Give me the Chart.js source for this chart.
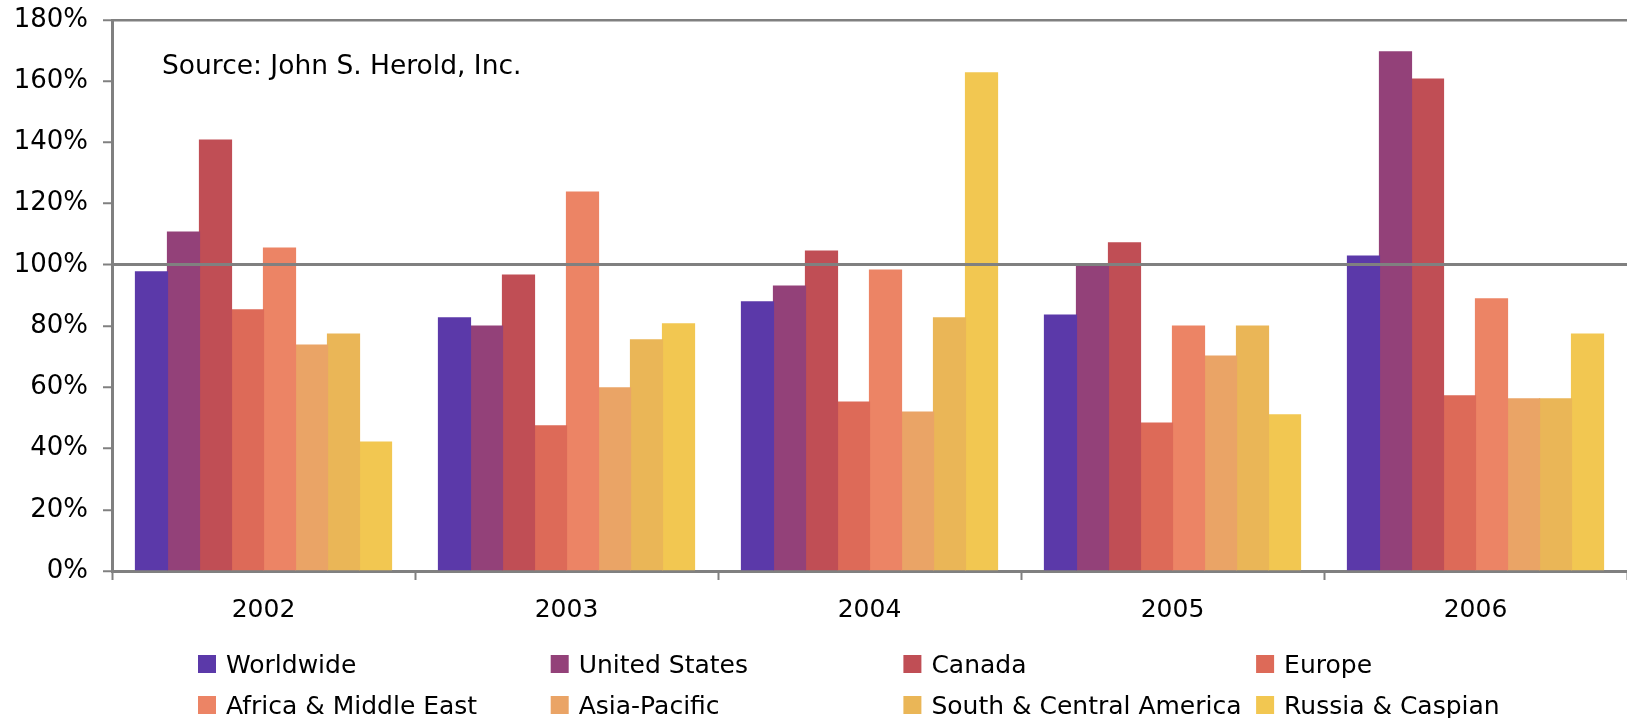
<!DOCTYPE html>
<html>
<head>
<meta charset="utf-8">
<script src="https://cdn.jsdelivr.net/npm/chart.js@4.4.1/dist/chart.umd.min.js"></script>
<style>
  html, body { margin: 0; padding: 0; background: #fff; }
  #mychart { display: block; }
</style>
</head>
<body>
<canvas id="mychart" width="1627" height="718"></canvas>
<script>
// reserve replacement ratio by region, per year
const years = ['2002', '2003', '2004', '2005', '2006']
const regionNames = ['Worldwide', 'United States', 'Canada', 'Europe',
  'Africa & Middle East', 'Asia-Pacific', 'South & Central America', 'Russia & Caspian']

const worldwide = [97.7, 82.7, 87.9, 83.6, 102.9]
const unitedStates = [110.7, 80.0, 93.1, 100.0, 169.6]
const canada = [140.8, 96.7, 104.5, 107.2, 160.7]
const europe = [85.3, 47.4, 55.2, 48.3, 57.2]
const africaMiddleEast = [105.5, 123.8, 98.3, 80.0, 88.9]
const asiaPacific = [73.8, 59.8, 51.9, 70.2, 56.2]
const southCentralAmerica = [77.4, 75.5, 82.7, 80.0, 56.2]
const russiaCaspian = [42.1, 80.7, 162.7, 51.0, 77.4]

const yTicks = [0, 20, 40, 60, 80, 100, 120, 140, 160, 180]
const sourceNote = 'Source: John S. Herold, Inc.'

const series = [worldwide, unitedStates, canada, europe,
  africaMiddleEast, asiaPacific, southCentralAmerica, russiaCaspian]
const palette = ['#5b39a9', '#934179', '#c04e55', '#dd6a58',
  '#ec8465', '#eaa466', '#eab657', '#f2c751']

const FONT = '"DejaVu Sans", Verdana, sans-serif'
const AXIS_GRAY = '#808080'

// legend in a 4 column grid under the axis, plus the source note
const gridLegend = {
  id: 'gridLegend',
  afterDraw(chart) {
    const ctx = chart.ctx
    ctx.save()
    ctx.font = '25px ' + FONT
    ctx.textBaseline = 'alphabetic'
    chart.data.datasets.forEach((ds, i) => {
      const x = 198 + (i % 4) * 352.7
      const y = 673 + Math.floor(i / 4) * 41
      ctx.fillStyle = ds.backgroundColor
      ctx.fillRect(x, y - 18, 18, 18)
      ctx.fillStyle = '#000'
      ctx.fillText(ds.label, x + 28, y)
    })
    ctx.font = '26.5px ' + FONT
    ctx.fillText(sourceNote, chart.chartArea.left + 50, chart.chartArea.top + 54)
    ctx.restore()
  }
}

const ctx = document.getElementById('mychart').getContext('2d')
const chart = new Chart(ctx, {
  type: 'bar',
  data: {
    labels: years,
    datasets: series.map((vals, i) => ({
      label: regionNames[i],
      data: vals,
      backgroundColor: palette[i],
      borderWidth: 0,
      inflateAmount: 0.6, // no hairline gaps between touching bars
      barPercentage: 1,
      categoryPercentage: 0.845
    }))
  },
  options: {
    responsive: false,
    animation: false,
    layout: { padding: { top: 20, right: -5, bottom: 0, left: 0 } },
    plugins: {
      legend: { display: false },
      tooltip: { enabled: false }
    },
    scales: {
      x: {
        grid: {
          offset: true,
          drawOnChartArea: false,
          tickColor: AXIS_GRAY,
          tickLength: 9,
          tickWidth: 2
        },
        border: { color: AXIS_GRAY, width: 3 },
        ticks: { padding: 15, color: '#000', font: { family: FONT, size: 25 } },
        afterFit: s => { s.height = 147 }
      },
      y: {
        min: 0,
        max: 180,
        afterBuildTicks: s => { s.ticks = yTicks.map(v => ({ value: v })) },
        grid: {
          z: 1,
          color: c => (c.tick && (c.tick.value === 100 || c.tick.value === 180)) ? AXIS_GRAY : 'rgba(0,0,0,0)',
          lineWidth: c => (c.tick && c.tick.value === 100) ? 3 : 2.5,
          tickColor: AXIS_GRAY,
          tickLength: 9,
          tickWidth: 2
        },
        // drawn on the same layer as the grid so the 100% line sits over the bars
        border: { color: AXIS_GRAY, width: 3, z: 1 },
        ticks: {
          padding: 15,
          color: '#000',
          font: { family: FONT, size: 26 },
          callback: v => v + '%'
        },
        afterFit: s => {
          s.width = 112
          s.paddingTop = 0
          s.paddingBottom = 0
        }
      }
    }
  },
  plugins: [gridLegend]
})
</script>
</body>
</html>
